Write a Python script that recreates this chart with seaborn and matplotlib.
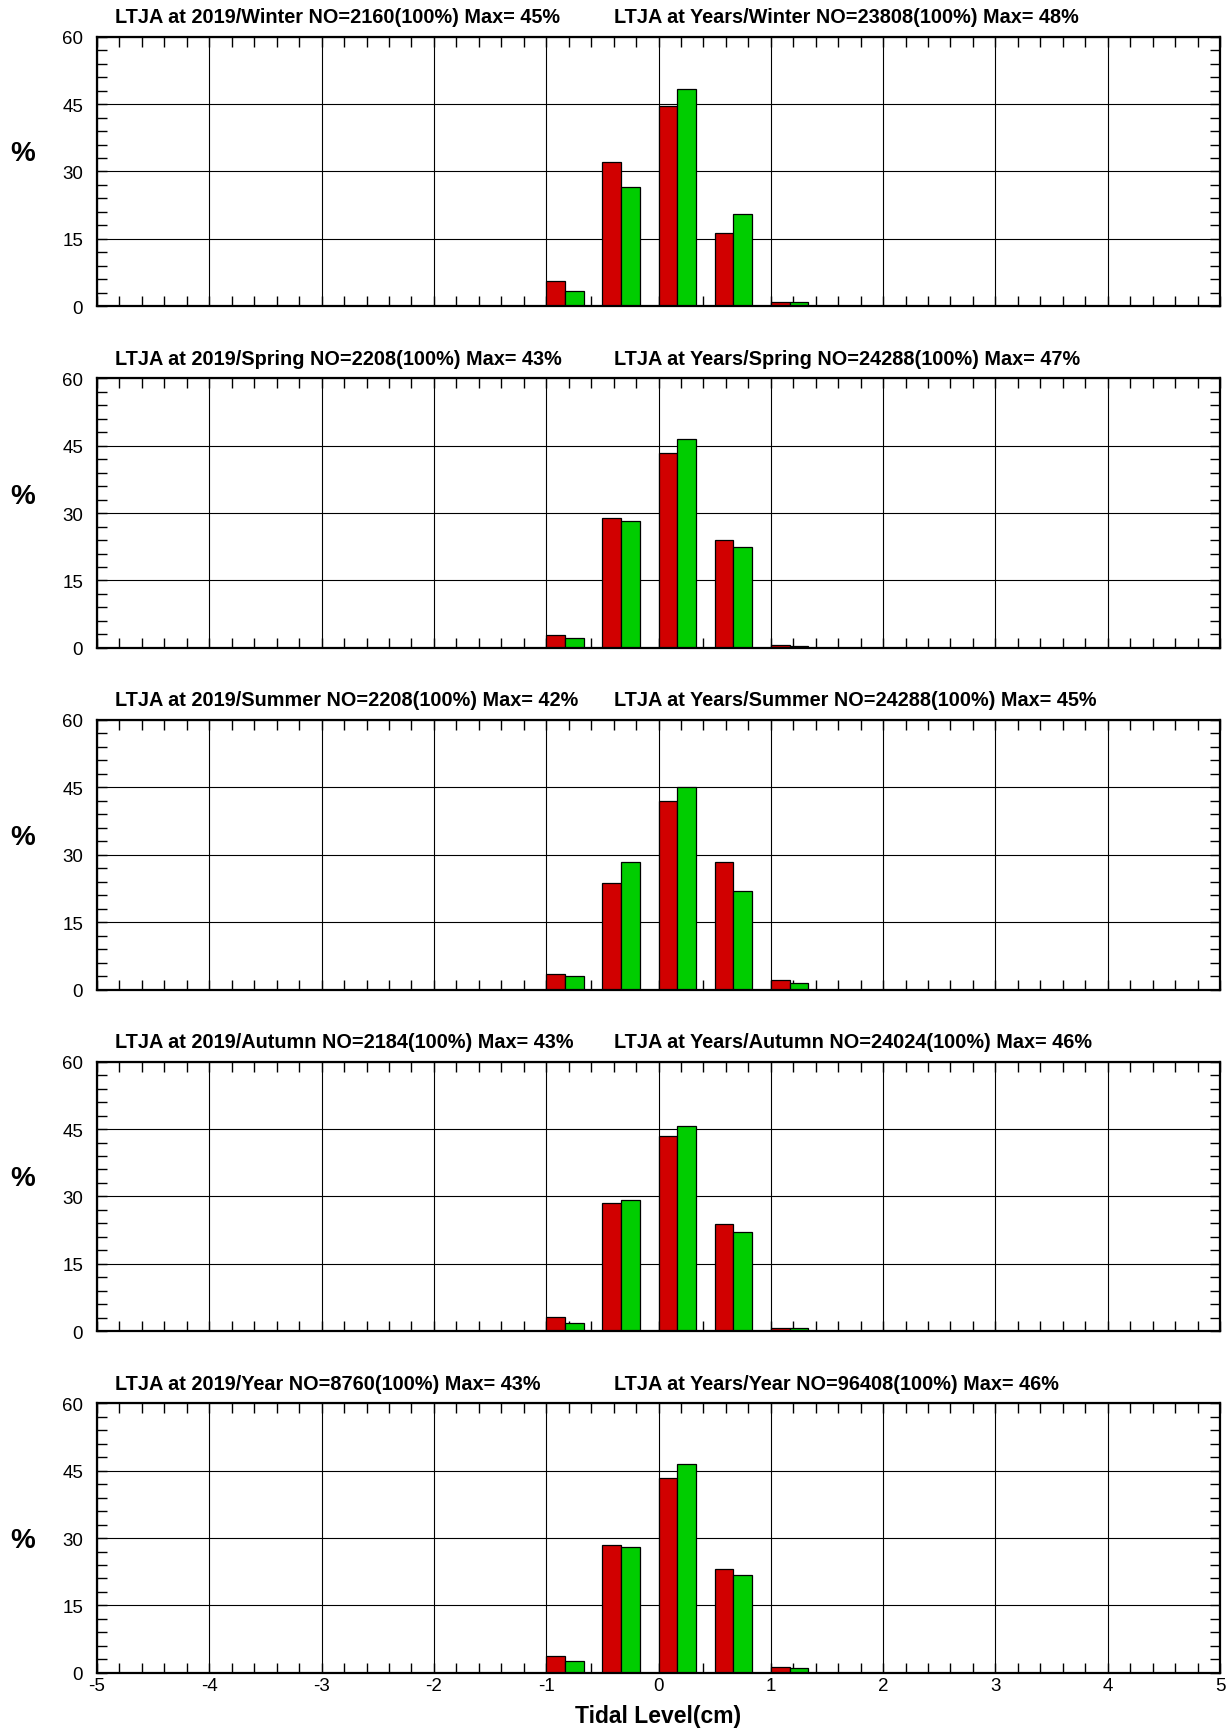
import numpy as np
import pandas as pd
import matplotlib
matplotlib.use("Agg")
import matplotlib.pyplot as plt
from matplotlib.ticker import MultipleLocator
import seaborn as sns

# ---------------- data ----------------
bin_left = [-1.0, -0.5, 0.0, 0.5, 1.0]
seasons = ["Winter", "Spring", "Summer", "Autumn", "Year"]
no_2019 = [2160, 2208, 2208, 2184, 8760]
no_years = [23808, 24288, 24288, 24024, 96408]
max_2019 = [45, 43, 42, 43, 43]
max_years = [48, 47, 45, 46, 46]

pct_2019 = {
    "Winter": [5.7, 32.2, 44.5, 16.3, 1.0],
    "Spring": [2.8, 29.0, 43.3, 24.0, 0.7],
    "Summer": [3.4, 23.8, 41.9, 28.4, 2.1],
    "Autumn": [3.1, 28.5, 43.4, 23.9, 0.75],
    "Year":   [3.85, 28.5, 43.4, 23.2, 1.2],
}
pct_years = {
    "Winter": [3.3, 26.6, 48.3, 20.5, 0.9],
    "Spring": [2.15, 28.3, 46.6, 22.4, 0.45],
    "Summer": [2.9, 28.4, 45.0, 22.0, 1.35],
    "Autumn": [1.9, 29.3, 45.7, 22.1, 0.67],
    "Year":   [2.6, 28.1, 46.5, 21.8, 0.96],
}
xticks = [-5, -4, -3, -2, -1, 0, 1, 2, 3, 4, 5]
yticks = [0, 15, 30, 45, 60]

# ---------------- style ----------------
sns.set_theme(style="white")
plt.rcParams["font.family"] = ["Liberation Sans", "DejaVu Sans"]
plt.rcParams["axes.unicode_minus"] = False

RED = "#D10000"
GREEN = "#00CD00"
W, H = 1229, 1731
fig = plt.figure(figsize=(W / 100, H / 100), dpi=100)

left_px, right_px = 97, 1220
top0, step, hgt = 37.7, 341.65, 269.5
group_offset = 1.0 / 6.0
pct_label_y = [0.567, 0.565, 0.566, 0.569, 0.492]

for i, s in enumerate(seasons):
    top = top0 + step * i
    ax = fig.add_axes([left_px / W, 1 - (top + hgt) / H,
                       (right_px - left_px) / W, hgt / H])
    df = pd.DataFrame({
        "pos": np.concatenate([np.array(bin_left) + group_offset] * 2),
        "pct": pct_2019[s] + pct_years[s],
        "series": ["2019"] * len(bin_left) + ["Years"] * len(bin_left),
    })
    ax.set_axisbelow(True)
    ax.grid(True, which="major", color="black", linewidth=0.8)
    sns.barplot(data=df, x="pos", y="pct", hue="series",
                palette=[RED, GREEN], saturation=1, native_scale=True,
                width=2 / 3, dodge=True, edgecolor="black", linewidth=0.9,
                errorbar=None, legend=False, ax=ax)
    ax.set_xlim(-5, 5)
    ax.set_ylim(0, 60)
    ax.set_xticks(xticks)
    ax.set_yticks(yticks)
    ax.xaxis.set_minor_locator(MultipleLocator(0.2))
    ax.yaxis.set_minor_locator(MultipleLocator(3))
    ax.tick_params(which="both", direction="in", top=True, right=True,
                   bottom=True, left=True, color="black")
    ax.tick_params(which="minor", length=7.5, width=1.0)
    ax.tick_params(which="major", length=7.5, width=1.0)
    ax.tick_params(axis="y", which="major", labelsize=13.5, pad=10,
                   labelcolor="black")
    ax.tick_params(axis="x", which="major", labelsize=13.5, pad=3,
                   labelcolor="black")
    if i < len(seasons) - 1:
        ax.set_xticklabels([])
    else:
        ax.set_xticklabels([str(t) for t in xticks])
    ax.set_yticklabels([str(t) for t in yticks])
    ax.set_xlabel("")
    ax.set_ylabel("")
    for sp in ax.spines.values():
        sp.set_color("black")
        sp.set_linewidth(1.6)

    ax.text((115 - left_px) / (right_px - left_px), 1 + 20 / hgt,
            f"LTJA at 2019/{s} NO={no_2019[i]}(100%) Max= {max_2019[i]}%",
            transform=ax.transAxes, ha="left", va="center",
            fontsize=14.3, fontweight="bold", color="black")
    ax.text((614 - left_px) / (right_px - left_px), 1 + 20 / hgt,
            f"LTJA at Years/{s} NO={no_years[i]}(100%) Max= {max_years[i]}%",
            transform=ax.transAxes, ha="left", va="center",
            fontsize=14.3, fontweight="bold", color="black")
    ax.text((23 - left_px) / (right_px - left_px), pct_label_y[i], "%",
            transform=ax.transAxes, ha="center", va="center",
            fontsize=20, fontweight="bold", color="black")

fig.text(658 / W, 1 - 1717 / H, "Tidal Level(cm)", ha="center", va="center",
         fontsize=16.5, fontweight="bold", color="black")

fig.savefig("out.png", dpi=100)
